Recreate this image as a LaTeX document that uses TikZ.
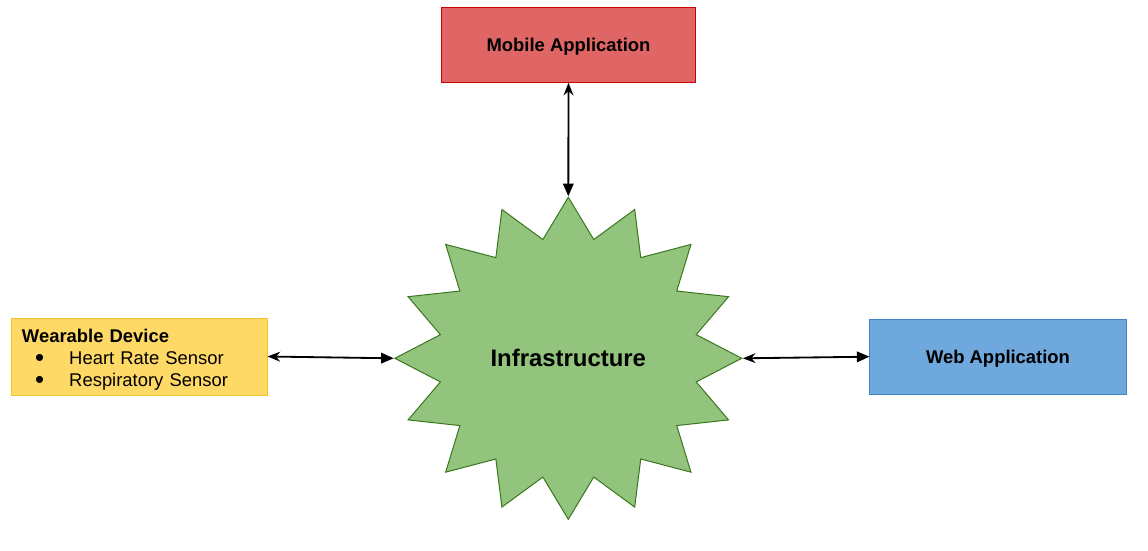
\documentclass[tikz,border=0pt]{standalone}
\usepackage{fontspec}
\usepackage{graphicx}
\setmainfont{Liberation Sans}
\usetikzlibrary{arrows.meta,shapes.geometric}
\definecolor{mobilefill}{HTML}{E06666}
\definecolor{mobiledraw}{HTML}{CC0000}
\definecolor{webfill}{HTML}{6FA8DC}
\definecolor{webdraw}{HTML}{3D85C6}
\definecolor{wearfill}{HTML}{FFD966}
\definecolor{weardraw}{HTML}{F1C232}
\definecolor{infrafill}{HTML}{93C47D}
\definecolor{infradraw}{HTML}{38761D}
\newcommand{\sensoritem}[1]{\hspace*{9.3pt}\raisebox{-1.4pt}{\scalebox{1.4}{\textbullet}}\hspace*{17.9pt}#1}
\tikzset{>=Latex,
  every node/.style={font=\fontsize{13.1}{15.6}\selectfont},
  appbox/.style={draw,line width=.7pt,minimum width=6.35cm,minimum height=1.875cm,
    inner sep=0pt,text depth=0pt,font=\fontsize{13.1}{15.6}\selectfont\bfseries},
  wearbox/.style={draw=weardraw,fill=wearfill,line width=.7pt,align=left,
    text width=5.875cm,inner xsep=.25cm,inner ysep=0pt,minimum height=1.925cm},
  starnode/.style={star,star points=16,star point ratio=1.33,minimum size=8.05cm,
    xscale=1.077,inner sep=0pt,fill=infrafill,draw=infradraw,line width=.7pt},
  link/.style={{Stealth[length=9pt,width=7pt]}-{Triangle[length=9pt,width=7.5pt]},
    line width=1.3pt}}
\begin{document}
\begin{tikzpicture}[x=0.025cm,y=-0.025cm]
\useasboundingbox (0,0) rectangle (1148,551);

\node[starnode] (infra) at (568.3,358.3) {};
\node[font=\fontsize{17}{20}\selectfont\bfseries] (infralabel) at (infra.center) {Infrastructure};

\node[appbox,fill=mobilefill,draw=mobiledraw] (mobile) at (568.5,44.7) {Mobile Application};
\node[appbox,fill=webfill,draw=webdraw,minimum width=6.4cm] (web) at (998,356.7) {Web Application};
\node[wearbox] (wear) at (139.5,356.5)
  {\rule{0pt}{13.8pt}\textbf{Wearable Device}\\\sensoritem{Heart Rate Sensor}\\\sensoritem{Respiratory Sensor}};

\draw[link] (wear.east) -- (infra.west);
\draw[link] (mobile.south) -- (infra.north);
\draw[link] (infra.east) -- (web.west);
\end{tikzpicture}
\end{document}
